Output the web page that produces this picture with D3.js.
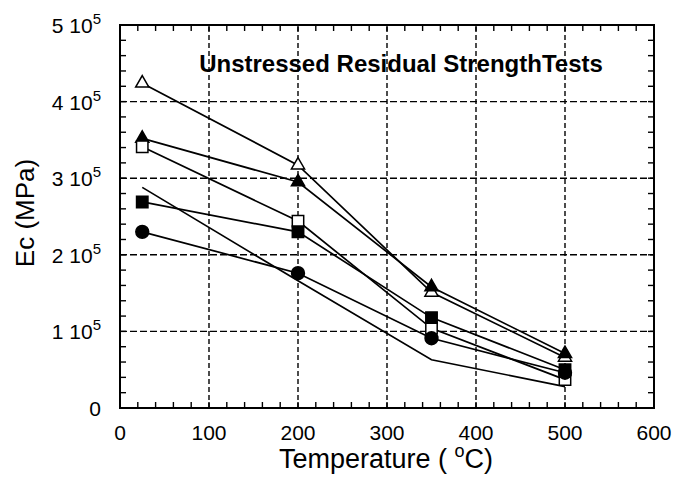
<!DOCTYPE html>
<html><head><meta charset="utf-8">
<script src="https://cdn.jsdelivr.net/npm/d3@7"></script>
<style>body{margin:0;background:#fff}svg{display:block}text{font-family:"Liberation Sans",Arial,sans-serif;fill:#000}</style>
</head><body>
<script>
const temps = [25, 200, 350, 500];
const openTriangle = [424000, 317000, 151000, 66000];
const filledTriangle = [352000, 295000, 158000, 71000];
const openSquare = [341000, 244000, 104000, 37000];
const filledSquare = [269000, 230000, 118000, 50000];
const filledCircle = [230000, 176000, 91000, 46000];
const noMarker = [288000, 166000, 63000, 28000];
const xTicks = [0, 100, 200, 300, 400, 500, 600];
const yTicks = [0, 1, 2, 3, 4, 5];
const title = "Unstressed Residual StrengthTests";

const W = 676, H = 479;
const svg = d3.select("body").append("svg").attr("width", W).attr("height", H);
const x = d3.scaleLinear().domain([0, 600]).range([120, 654]);
const y = d3.scaleLinear().domain([0, 500000]).range([408, 25]);

// grid
const g = svg.append("g");
g.selectAll(".gx").data([100,200,300,400,500]).join("line")
  .attr("x1", d=>x(d)).attr("x2", d=>x(d)).attr("y1", y(0)).attr("y2", y(500000))
  .attr("stroke", "#000").attr("stroke-width", 1.4).attr("stroke-dasharray", "5,3");
g.selectAll(".gy").data([1,2,3,4]).join("line")
  .attr("y1", d=>y(d*1e5)).attr("y2", d=>y(d*1e5)).attr("x1", x(0)).attr("x2", x(600))
  .attr("stroke", "#000").attr("stroke-width", 1.4).attr("stroke-dasharray", "7,3");

// minor ticks
const xm = d3.range(0, 601, 20), ym = d3.range(0, 500001, 20000);
g.selectAll(".tb").data(xm).join("line").attr("x1", d=>x(d)).attr("x2", d=>x(d)).attr("y1", y(0)).attr("y2", y(0)-6).attr("stroke","#000").attr("stroke-width",1.4);
g.selectAll(".tt").data(xm).join("line").attr("x1", d=>x(d)).attr("x2", d=>x(d)).attr("y1", y(5e5)).attr("y2", y(5e5)+6).attr("stroke","#000").attr("stroke-width",1.4);
g.selectAll(".tl").data(ym).join("line").attr("y1", d=>y(d)).attr("y2", d=>y(d)).attr("x1", x(0)).attr("x2", x(0)+6).attr("stroke","#000").attr("stroke-width",1.4);
g.selectAll(".tr").data(ym).join("line").attr("y1", d=>y(d)).attr("y2", d=>y(d)).attr("x1", x(600)).attr("x2", x(600)-6).attr("stroke","#000").attr("stroke-width",1.4);

// frame
svg.append("rect").attr("x", x(0)).attr("y", y(5e5)).attr("width", x(600)-x(0)).attr("height", y(0)-y(5e5))
  .attr("fill","none").attr("stroke","#000").attr("stroke-width",2);

// tick labels
svg.selectAll(".xl").data(xTicks).join("text").attr("x", d=>x(d)).attr("y", 440)
  .attr("text-anchor","middle").attr("font-size", 21).text(d=>d);
const yl = svg.selectAll(".yl").data(yTicks).join("text").attr("x", 101).attr("y", d=>y(d*1e5)+8)
  .attr("text-anchor","end").attr("font-size", 21);
yl.each(function(d){
  const t = d3.select(this);
  if (d === 0) { t.text("0"); return; }
  t.append("tspan").text(d + " 10");
  t.append("tspan").attr("dy", -9).attr("font-size", 15).text("5");
});

// axis titles
const xt = svg.append("text").attr("x", 386).attr("y", 468).attr("text-anchor","middle").attr("font-size", 27);
xt.append("tspan").text("Temperature ( ");
xt.append("tspan").attr("dy", -11).attr("font-size", 18).text("o");
xt.append("tspan").attr("dy", 11).text("C)");
svg.append("text").attr("transform","translate(34,213) rotate(-90)").attr("text-anchor","middle")
  .attr("font-size", 26).text("Ec (MPa)");

svg.append("text").attr("x", 401).attr("y", 72).attr("text-anchor","middle").attr("font-size", 24)
  .attr("font-weight","bold").text(title);

// lines
const line = d3.line().x((d,i)=>x(temps[i])).y(d=>y(d));
const series = [
  {v: openTriangle, m: "triangle", fill: "#fff"},
  {v: filledTriangle, m: "triangle", fill: "#000"},
  {v: openSquare, m: "square", fill: "#fff"},
  {v: filledSquare, m: "square", fill: "#000"},
  {v: filledCircle, m: "circle", fill: "#000"},
  {v: noMarker, m: null}
];
series.forEach(s => {
  svg.append("path").attr("d", line(s.v)).attr("fill","none").attr("stroke","#000").attr("stroke-width",1.7);
});
const sym = {triangle: d3.symbolTriangle, square: d3.symbolSquare, circle: d3.symbolCircle};
const size = {triangle: 75, square: 130, circle: 130};
series.forEach(s => {
  if (!s.m) return;
  svg.append("g").selectAll("path").data(s.v).join("path")
    .attr("transform", (d,i)=>`translate(${x(temps[i])},${y(d)})`)
    .attr("d", d3.symbol().type(sym[s.m]).size(size[s.m]))
    .attr("fill", s.fill).attr("stroke","#000").attr("stroke-width",1.5);
});
</script>
</body></html>
